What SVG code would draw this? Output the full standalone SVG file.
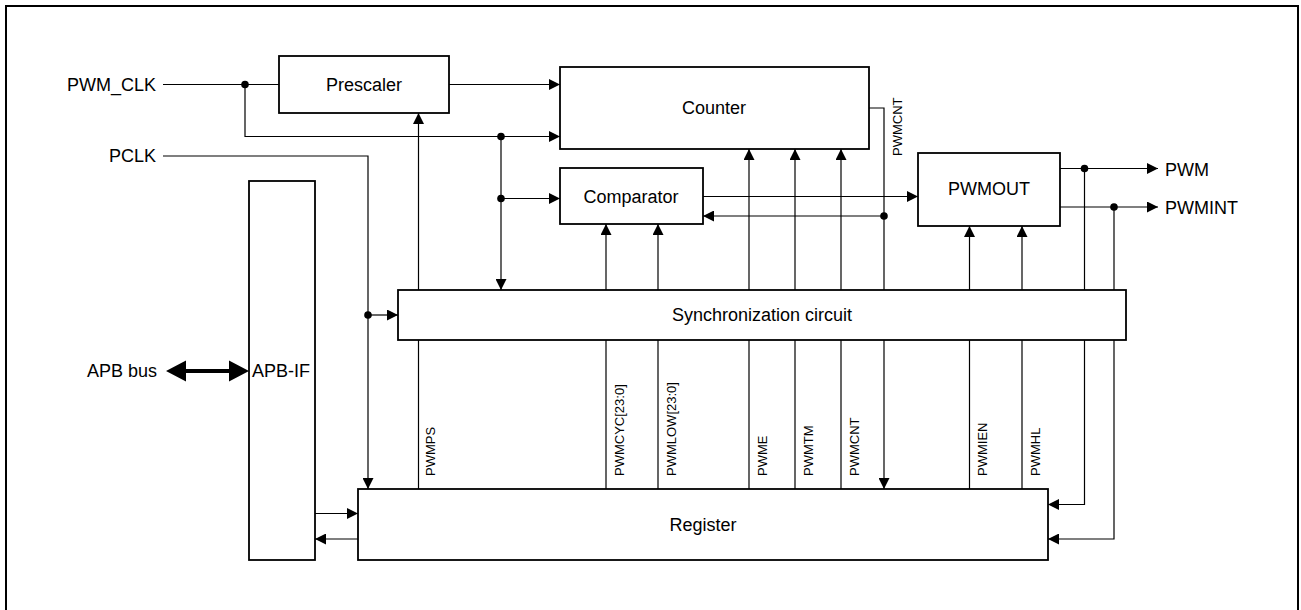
<svg xmlns="http://www.w3.org/2000/svg" width="1301" height="610" viewBox="0 0 1301 610">
<style>
.box{fill:#fff;stroke:#000;stroke-width:1.8}
.w{fill:none;stroke:#000;stroke-width:1.2}
.t{font-family:"Liberation Sans",Arial,sans-serif;font-size:18px;fill:#000}
.s{font-family:"Liberation Sans",Arial,sans-serif;font-size:13px;fill:#000}
.m{text-anchor:middle}
.e{text-anchor:end}
</style>
<defs>
<marker id="a" viewBox="0 0 11 11" refX="11" refY="5.5" markerWidth="11" markerHeight="11" orient="auto" markerUnits="userSpaceOnUse"><path d="M0,0L11,5.5L0,11z" fill="#000"/></marker>
</defs>
<rect x="6" y="6" width="1292" height="630" fill="#fff" stroke="#000" stroke-width="2"/>
<g id="connectors">
<path class="w" d="M163,84.5H279"/>
<path class="w" d="M245,84.5V136.5H560" marker-end="url(#a)"/>
<path class="w" d="M449,84.5H560" marker-end="url(#a)"/>
<path class="w" d="M501,136.5V290" marker-end="url(#a)"/>
<path class="w" d="M501,198.5H560" marker-end="url(#a)"/>
<path class="w" d="M163,156H368V489" marker-end="url(#a)"/>
<path class="w" d="M368,315H398" marker-end="url(#a)"/>
<path class="w" d="M418.5,290V113" marker-end="url(#a)"/>
<path class="w" d="M418.5,340V489"/>
<path class="w" d="M606,290V224" marker-end="url(#a)"/>
<path class="w" d="M658,290V224" marker-end="url(#a)"/>
<path class="w" d="M606,340V489M658,340V489"/>
<path class="w" d="M749,290V149" marker-end="url(#a)"/>
<path class="w" d="M795,290V149" marker-end="url(#a)"/>
<path class="w" d="M841,290V149" marker-end="url(#a)"/>
<path class="w" d="M749,340V489M795,340V489M841,340V489"/>
<path class="w" d="M869,108H884V290"/>
<path class="w" d="M884,340V489" marker-end="url(#a)"/>
<path class="w" d="M703,196.5H918" marker-end="url(#a)"/>
<path class="w" d="M884,216H703" marker-end="url(#a)"/>
<path class="w" d="M969.5,290V226" marker-end="url(#a)"/>
<path class="w" d="M1022,290V226" marker-end="url(#a)"/>
<path class="w" d="M969.5,340V489M1022,340V489"/>
<path class="w" d="M1060,168.5H1158" marker-end="url(#a)"/>
<path class="w" d="M1084.5,168.5V290"/>
<path class="w" d="M1084.5,340V504.5H1048" marker-end="url(#a)"/>
<path class="w" d="M1060,207H1158" marker-end="url(#a)"/>
<path class="w" d="M1114,207V290"/>
<path class="w" d="M1114,340V539H1048" marker-end="url(#a)"/>
<path class="w" d="M315,513.5H358" marker-end="url(#a)"/>
<path class="w" d="M358,539H315" marker-end="url(#a)"/>
<path d="M166,371L186,360.5V369H229V360.5L249,371L229,381.5V373H186V381.5Z" fill="#000"/>
<g fill="#000">
<circle cx="245" cy="84.5" r="3.8"/>
<circle cx="501" cy="136.5" r="3.8"/>
<circle cx="501" cy="198.5" r="3.8"/>
<circle cx="368" cy="315" r="3.8"/>
<circle cx="884" cy="216" r="3.8"/>
<circle cx="1084.5" cy="168.5" r="3.8"/>
<circle cx="1114" cy="207" r="3.8"/>
</g>
<text class="s" transform="translate(435,476) rotate(-90)">PWMPS</text>
<text class="s" transform="translate(624,476) rotate(-90)">PWMCYC[23:0]</text>
<text class="s" transform="translate(676,476) rotate(-90)">PWMLOW[23:0]</text>
<text class="s" transform="translate(766.5,476) rotate(-90)">PWME</text>
<text class="s" transform="translate(812.5,476) rotate(-90)">PWMTM</text>
<text class="s" transform="translate(858.5,476) rotate(-90)">PWMCNT</text>
<text class="s" transform="translate(986.5,476) rotate(-90)">PWMIEN</text>
<text class="s" transform="translate(1039.5,476) rotate(-90)">PWMHL</text>
<text class="s" transform="translate(902,156) rotate(-90)">PWMCNT</text>
</g>
<g id="labels">
<text class="t e" x="156" y="91">PWM_CLK</text>
<text class="t e" x="156" y="162">PCLK</text>
<text class="t e" x="157" y="377">APB bus</text>
<text class="t" x="1165" y="175.5">PWM</text>
<text class="t" x="1165" y="214">PWMINT</text>
</g>
<g id="prescaler"><rect class="box" x="279" y="56" width="170" height="57"/><text class="t m" x="364" y="91">Prescaler</text></g>
<g id="counter"><rect class="box" x="560" y="67" width="309" height="82"/><text class="t m" x="714" y="114">Counter</text></g>
<g id="comparator"><rect class="box" x="560" y="168" width="143" height="56"/><text class="t m" x="631" y="202.5">Comparator</text></g>
<g id="pwmout"><rect class="box" x="918" y="153" width="142" height="73"/><text class="t m" x="989" y="195">PWMOUT</text></g>
<g id="apbif"><rect class="box" x="249" y="181" width="66" height="379"/><text class="t" x="252" y="377">APB-IF</text></g>
<g id="sync"><rect class="box" x="398" y="290" width="728" height="50"/><text class="t m" x="762" y="321">Synchronization circuit</text></g>
<g id="register"><rect class="box" x="358" y="489" width="690" height="71"/><text class="t m" x="703" y="531">Register</text></g>
</svg>
